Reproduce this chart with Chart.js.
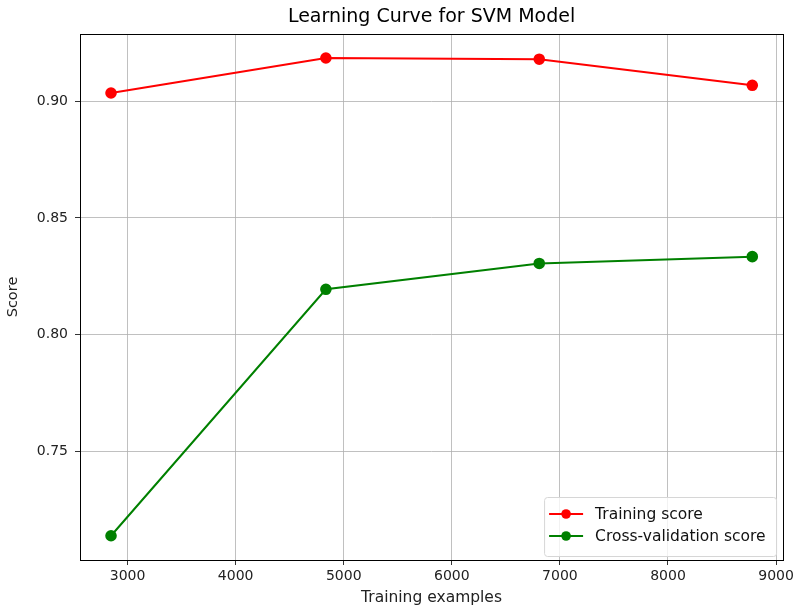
<!DOCTYPE html>
<html>
<head>
<meta charset="utf-8">
<script src="https://cdn.jsdelivr.net/npm/chart.js@4/dist/chart.umd.min.js"></script>
<style>
  html, body { margin: 0; padding: 0; background: #fff; }
  #wrap { width: 797px; height: 609px; }
</style>
</head>
<body>
<div id="wrap"><canvas id="c" width="797" height="609"></canvas></div>
<script>
// Training set sizes and mean scores of the learning curve
const trainSizes = [2847, 4835, 6809, 8780];
const trainScores = [0.9036, 0.9186, 0.9181, 0.9069];
const cvScores = [0.7137, 0.8194, 0.8305, 0.8334];

// Axis tick values
const xTicks = [3000, 4000, 5000, 6000, 7000, 8000, 9000];
const yTicks = [0.75, 0.80, 0.85, 0.90];

const TITLE = 'Learning Curve for SVM Model';
const FONT = "'DejaVu Sans', sans-serif";

const toPoints = (xs, ys) => xs.map((x, i) => ({ x: x, y: ys[i] }));

// Full box around the plotting area, plus the title centred over it
const frame = {
  id: 'frame',
  beforeDatasetsDraw(chart) {
    const { ctx, chartArea: a } = chart;
    ctx.save();
    ctx.strokeStyle = '#000';
    ctx.lineWidth = 1;
    ctx.strokeRect(Math.round(a.left) + 0.5, Math.round(a.top) + 0.5,
                   Math.round(a.right - a.left), Math.round(a.bottom - a.top));
    ctx.fillStyle = '#000';
    ctx.font = '19px ' + FONT;
    ctx.textAlign = 'center';
    ctx.textBaseline = 'middle';
    ctx.fillText(TITLE, (a.left + a.right) / 2, 17.5);
    ctx.restore();
  }
};

// Legend box in the lower right corner inside the plot
const innerLegend = {
  id: 'innerLegend',
  afterDraw(chart) {
    const { ctx, chartArea: a } = chart;
    const sets = chart.data.datasets;
    const boxW = 232, rowH = 22;
    const boxH = 15 + rowH * sets.length;
    const x0 = a.right - 7 - boxW, y0 = a.bottom - 4 - boxH;
    ctx.save();
    ctx.beginPath();
    ctx.roundRect(x0 + 0.5, y0 + 0.5, boxW, boxH, 3);
    ctx.fillStyle = 'rgba(255,255,255,0.8)';
    ctx.fill();
    ctx.strokeStyle = '#d6d6d6';
    ctx.lineWidth = 1;
    ctx.stroke();
    ctx.font = '15.5px ' + FONT;
    ctx.textBaseline = 'middle';
    sets.forEach((ds, i) => {
      const cy = y0 + 17 + i * rowH;
      ctx.strokeStyle = ds.borderColor;
      ctx.lineWidth = 2;
      ctx.beginPath();
      ctx.moveTo(x0 + 5, cy);
      ctx.lineTo(x0 + 39, cy);
      ctx.stroke();
      ctx.fillStyle = ds.pointBackgroundColor;
      ctx.beginPath();
      ctx.arc(x0 + 22, cy, 4.8, 0, Math.PI * 2);
      ctx.fill();
      ctx.fillStyle = '#111';
      ctx.fillText(ds.label, x0 + 51, cy + 1);
    });
    ctx.restore();
  }
};

new Chart(document.getElementById('c'), {
  type: 'line',
  data: {
    datasets: [
      {
        label: 'Training score',
        data: toPoints(trainSizes, trainScores),
        borderColor: '#ff0000',
        backgroundColor: '#ff0000',
        pointBackgroundColor: '#ff0000',
        pointBorderColor: '#ff0000',
        borderWidth: 2,
        pointRadius: 4.8,
        tension: 0
      },
      {
        label: 'Cross-validation score',
        data: toPoints(trainSizes, cvScores),
        borderColor: '#008000',
        backgroundColor: '#008000',
        pointBackgroundColor: '#008000',
        pointBorderColor: '#008000',
        borderWidth: 2,
        pointRadius: 4.8,
        tension: 0
      }
    ]
  },
  options: {
    responsive: false,
    animation: false,
    layout: { padding: { left: 0, right: 12, top: 34, bottom: 0 } },
    plugins: {
      legend: { display: false },
      tooltip: { enabled: false },
      title: { display: false }
    },
    scales: {
      x: {
        type: 'linear',
        min: 2560,
        max: 9065,
        afterBuildTicks(scale) { scale.ticks = xTicks.map(v => ({ value: v })); },
        afterFit(scale) { scale.height = 49; },
        grid: { color: '#b0b0b0', lineWidth: 0.8, tickColor: '#000', tickLength: 5, drawTicks: true },
        border: { display: false },
        ticks: { color: '#222', font: { family: FONT, size: 14 }, padding: 3, maxRotation: 0,
                 callback: v => String(v) },
        title: { display: true, text: 'Training examples', color: '#222',
                 font: { family: FONT, size: 15.5 }, padding: { top: 0, bottom: 2 } }
      },
      y: {
        type: 'linear',
        min: 0.7033,
        max: 0.9289,
        afterBuildTicks(scale) { scale.ticks = yTicks.map(v => ({ value: v })); },
        afterFit(scale) { scale.width = 80; },
        grid: { color: '#b0b0b0', lineWidth: 0.8, tickColor: '#000', tickLength: 5, drawTicks: true },
        border: { display: false },
        ticks: { color: '#222', font: { family: FONT, size: 14 }, padding: 7,
                 callback: v => v.toFixed(2) },
        title: { display: true, text: 'Score', color: '#222',
                 font: { family: FONT, size: 14.5 }, padding: { top: 5, bottom: 0 } }
      }
    }
  },
  plugins: [frame, innerLegend]
});
</script>
</body>
</html>
